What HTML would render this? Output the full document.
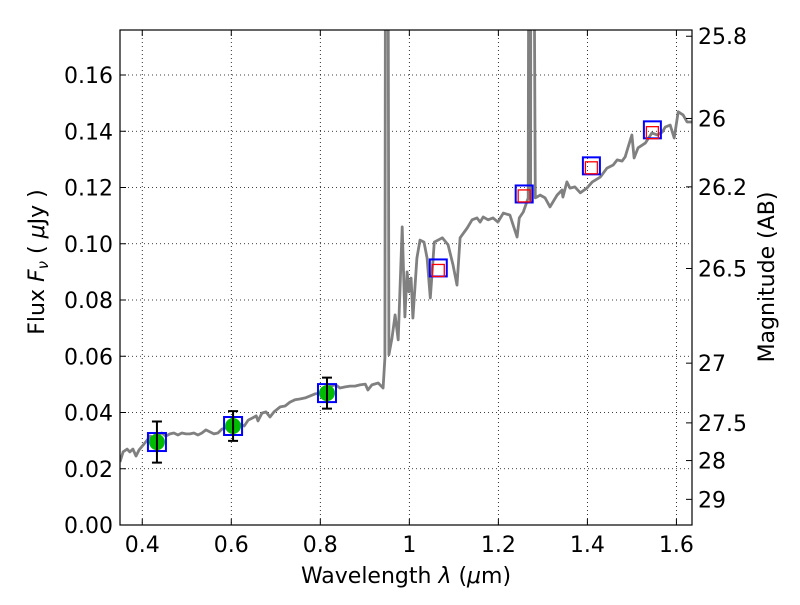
<!DOCTYPE html>
<html><head><meta charset="utf-8"><style>
html,body{margin:0;padding:0;background:#fff;}
svg text{font-family:"DejaVu Sans","Liberation Sans",sans-serif;fill:#000;}
</style></head><body>
<svg id="chart" width="800" height="600" viewBox="0 0 800 600" xmlns="http://www.w3.org/2000/svg">
<defs><clipPath id="plotclip"><rect x="120" y="30" width="572" height="495"/></clipPath></defs>
<rect width="800" height="600" fill="#fff"/>
<g id="grid"></g>
<g id="series" clip-path="url(#plotclip)"></g>
<g id="axes"></g>
<text x="406" y="583" font-size="22" text-anchor="middle">Wavelength  <tspan font-style="italic">λ</tspan> (<tspan font-style="italic">μ</tspan>m)</text>
<text transform="translate(44,262) rotate(-90)" font-size="22" text-anchor="middle">Flux  <tspan font-style="italic">F</tspan><tspan font-style="italic" font-size="15" dy="4">ν</tspan><tspan dy="-4">  (  </tspan><tspan font-style="italic">μ</tspan>Jy )</text>
<text transform="translate(774,277) rotate(-90)" font-size="22" text-anchor="middle">Magnitude (AB)</text>
</svg>
<script>
const specLam=[0.350,0.357,0.366,0.372,0.379,0.386,0.393,0.402,0.411,0.417,0.424,0.431,0.438,0.444,0.453,0.462,0.471,0.480,0.489,0.498,0.507,0.516,0.525,0.534,0.543,0.552,0.561,0.570,0.579,0.588,0.602,0.611,0.620,0.629,0.638,0.647,0.656,0.660,0.669,0.678,0.687,0.696,0.710,0.721,0.732,0.743,0.754,0.766,0.777,0.788,0.799,0.811,0.822,0.835,0.844,0.856,0.867,0.878,0.889,0.901,0.907,0.916,0.930,0.941,0.945,0.948,0.950,0.954,0.961,0.968,0.975,0.984,0.990,0.995,0.999,1.004,1.008,1.017,1.024,1.033,1.040,1.047,1.056,1.074,1.087,1.098,1.107,1.114,1.130,1.141,1.152,1.159,1.166,1.177,1.188,1.199,1.211,1.226,1.233,1.242,1.247,1.256,1.267,1.2705,1.2715,1.2725,1.2735,1.2745,1.283,1.294,1.305,1.316,1.332,1.343,1.345,1.354,1.361,1.372,1.384,1.399,1.411,1.429,1.444,1.458,1.467,1.478,1.485,1.491,1.500,1.505,1.514,1.530,1.545,1.557,1.568,1.575,1.586,1.595,1.604,1.615,1.624,1.636];
const specFlux=[0.0224,0.0260,0.0270,0.0260,0.0270,0.0245,0.0267,0.0284,0.0302,0.0316,0.0313,0.0324,0.0324,0.0327,0.0316,0.0324,0.0327,0.0320,0.0327,0.0324,0.0324,0.0327,0.0320,0.0327,0.0338,0.0331,0.0324,0.0327,0.0341,0.0345,0.0366,0.0363,0.0359,0.0352,0.0373,0.0380,0.0388,0.0370,0.0398,0.0402,0.0384,0.0402,0.0420,0.0423,0.0437,0.0445,0.0448,0.0452,0.0459,0.0466,0.0469,0.0480,0.0494,0.0498,0.0487,0.0491,0.0494,0.0494,0.0498,0.0501,0.0480,0.0498,0.0505,0.0487,0.0594,0.40,0.40,0.0605,0.0665,0.0747,0.0658,0.1060,0.0740,0.0900,0.0829,0.0878,0.0736,0.0949,0.1013,0.1006,0.0949,0.0807,0.1006,0.1021,0.0996,0.0925,0.0853,0.1021,0.1056,0.1085,0.1092,0.1077,0.1095,0.1085,0.1092,0.1077,0.1109,0.1102,0.1067,0.1024,0.1092,0.1113,0.1163,0.40,0.40,0.1150,0.40,0.40,0.1163,0.1173,0.1163,0.1131,0.1173,0.1191,0.1166,0.1220,0.1198,0.1202,0.1181,0.1198,0.1220,0.1237,0.1269,0.1280,0.1298,0.1294,0.1309,0.1341,0.1387,0.1305,0.1341,0.1358,0.1394,0.1387,0.1397,0.1415,0.1422,0.1376,0.1469,0.1458,0.1433,0.1433];
const optLam=[0.433,0.604,0.815];
const optFlux=[0.0295,0.0352,0.0469];
const optErr=[0.0073,0.0053,0.0055];
const irLam=[1.065,1.258,1.409,1.546];
const irFlux=[0.0914,0.1177,0.1277,0.1405];
const irModel=[0.0905,0.1170,0.1270,0.1395];
const xTicks=[0.4,0.6,0.8,1.0,1.2,1.4,1.6];
const xTickLabels=["0.4","0.6","0.8","1","1.2","1.4","1.6"];
const yTicks=[0,0.02,0.04,0.06,0.08,0.10,0.12,0.14,0.16];
const yTickLabels=["0.00","0.02","0.04","0.06","0.08","0.10","0.12","0.14","0.16"];
const magTicks=[25.8,26,26.2,26.5,27,27.5,28,29];
const magTickLabels=["25.8","26","26.2","26.5","27","27.5","28","29"];

const L=120,R=692,T=30,B=525,XMIN=0.35,XMAX=1.635,YMIN=0,YMAX=0.176;
const sx=v=>L+(v-XMIN)/(XMAX-XMIN)*(R-L);
const sy=v=>B-(v-YMIN)/(YMAX-YMIN)*(B-T);
const magToFlux=m=>Math.pow(10,(23.9-m)/2.5);
const NS="http://www.w3.org/2000/svg";
function mk(tag,parent,attrs){const e=document.createElementNS(NS,tag);for(const k in attrs)e.setAttribute(k,attrs[k]);parent.appendChild(e);return e;}
const grid=document.getElementById('grid'),ser=document.getElementById('series'),ax=document.getElementById('axes');

xTicks.forEach((t,i)=>{
  const x=sx(t);
  const g=mk('line',grid,{x1:x,x2:x,y1:T,y2:B,stroke:'#000','stroke-width':0.8,'stroke-dasharray':'1,3'});
  
  
  mk('line',ax,{x1:x,x2:x,y1:B,y2:B-6,stroke:'#000','stroke-width':1});
  mk('line',ax,{x1:x,x2:x,y1:T,y2:T+6,stroke:'#000','stroke-width':1});
  const tx=mk('text',ax,{x:x,y:B+27,'font-size':22,'text-anchor':'middle'});
  tx.textContent=xTickLabels[i];
  
  
});
yTicks.forEach((t,i)=>{
  const y=sy(t);
  const g=mk('line',grid,{x1:L,x2:R,y1:y,y2:y,stroke:'#000','stroke-width':0.8,'stroke-dasharray':'1,3'});
  
  
  mk('line',ax,{x1:L,x2:L+6,y1:y,y2:y,stroke:'#000','stroke-width':1});
  const tx=mk('text',ax,{x:L-7,y:y+8,'font-size':22,'text-anchor':'end'});
  tx.textContent=yTickLabels[i];
  
  
});
magTicks.forEach((m,i)=>{
  const y=sy(magToFlux(m));
  mk('line',ax,{x1:R,x2:R-6,y1:y,y2:y,stroke:'#000','stroke-width':1});
  const tx=mk('text',ax,{x:R+6,y:y+8,'font-size':22,'text-anchor':'start'});
  tx.textContent=magTickLabels[i];
  
  
});

const pts=specLam.map((l,i)=>sx(l).toFixed(1)+','+sy(specFlux[i]).toFixed(1)).join(' ');
const pl=mk('polyline',ser,{points:pts,fill:'none',stroke:'#808080','stroke-width':2.8,'stroke-linejoin':'round'});



optLam.forEach((l,i)=>{
  const x=sx(l),y=sy(optFlux[i]);
  const bs=mk('rect',ser,{x:x-9,y:y-9,width:18,height:18,fill:'none',stroke:'#0000ff','stroke-width':2});
  
  
  const c=mk('circle',ser,{cx:x,cy:y,r:8,fill:'#00bb00'});
  
  
  const y1=sy(optFlux[i]+optErr[i]),y2=sy(optFlux[i]-optErr[i]);
  const eb=mk('path',ser,{d:`M${x},${y1}V${y2}M${x-5},${y1}H${x+5}M${x-5},${y2}H${x+5}`,stroke:'#000','stroke-width':2,fill:'none'});
  
  
});
irLam.forEach((l,i)=>{
  const x=sx(l),y=sy(irFlux[i]),ym=sy(irModel[i]);
  const bs=mk('rect',ser,{x:x-8.5,y:y-8.5,width:17,height:17,fill:'none',stroke:'#0000ff','stroke-width':2});
  
  
  const rs=mk('rect',ser,{x:x-6,y:ym-6,width:12,height:12,fill:'none',stroke:'#ff0000','stroke-width':1.3});
  
  
});
const frame=mk('rect',ax,{x:L,y:T,width:R-L,height:B-T,fill:'none',stroke:'#000','stroke-width':1.2});


</script>
</body></html>
